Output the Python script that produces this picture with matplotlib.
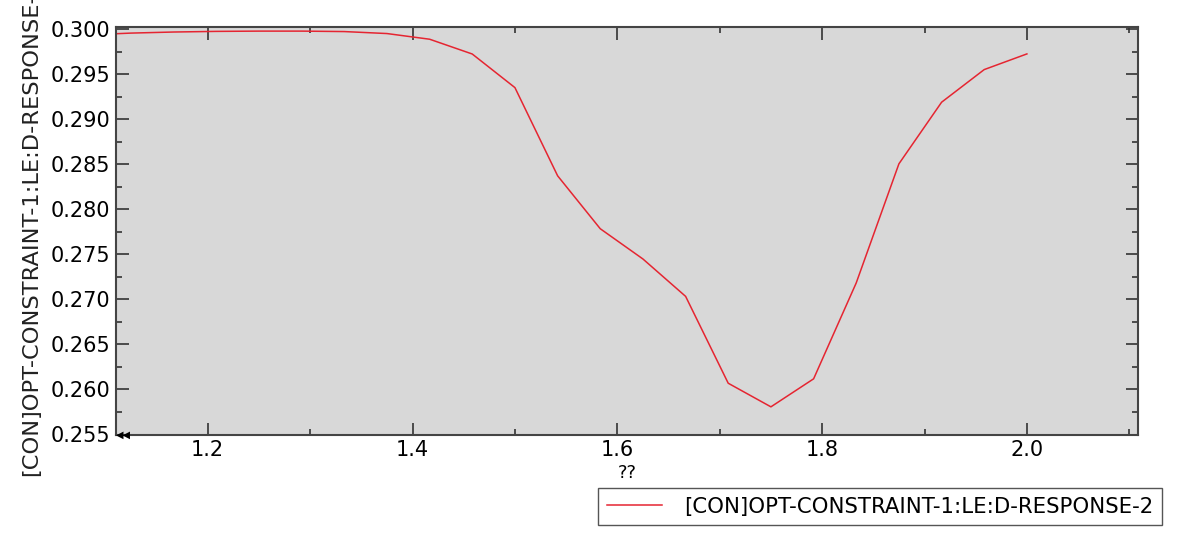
import numpy as np
import matplotlib
matplotlib.use("Agg")
import matplotlib.pyplot as plt
from matplotlib.ticker import MultipleLocator

# values
x_vals = [1.0833, 1.125, 1.1667, 1.2083, 1.25, 1.2917, 1.3333, 1.375, 1.4167,
          1.4583, 1.5, 1.5417, 1.5833, 1.625, 1.6667, 1.7083, 1.75, 1.7917,
          1.8333, 1.875, 1.9167, 1.9583, 2.0]
y_vals = [0.29935, 0.29955, 0.29967, 0.29974, 0.29977, 0.29977, 0.29972, 0.29950, 0.29887,
          0.29723, 0.29350, 0.28371, 0.27784, 0.27448, 0.27033, 0.26069, 0.25807, 0.26118,
          0.27182, 0.28504, 0.29188, 0.29550, 0.29724]
series_name = "[CON]OPT-CONSTRAINT-1:LE:D-RESPONSE-2"
x_title = "??"

plt.rcParams['font.family'] = ['DejaVu Sans']

fig = plt.figure(figsize=(11.77, 5.42), dpi=100)
ax = fig.add_axes([116 / 1177, 1 - 434.5 / 542, 1022 / 1177, 407.8 / 542])
ax.set_facecolor('#d8d8d8')

ax.plot(x_vals, y_vals, color='#e52531', lw=1.1, label=series_name)

ax.set_xlim(1.1104, 2.1085)
ax.set_ylim(0.255, 0.30026)
ax.xaxis.set_major_locator(MultipleLocator(0.2))
ax.xaxis.set_minor_locator(MultipleLocator(0.1))
ax.yaxis.set_major_locator(MultipleLocator(0.005))
ax.yaxis.set_minor_locator(MultipleLocator(0.0025))
ax.yaxis.set_major_formatter(plt.FormatStrFormatter('%.3f'))
ax.xaxis.set_major_formatter(plt.FormatStrFormatter('%.1f'))

ax.tick_params(which='both', direction='in', top=True, right=True,
               colors='#333333', labelcolor='black', labelsize=15, width=1.2)
ax.tick_params(which='major', length=9, pad=4)
ax.tick_params(which='minor', length=4)
for s in ax.spines.values():
    s.set_color('#444444')
    s.set_linewidth(1.5)

ax.set_xlabel(x_title, fontsize=13, labelpad=3)
# y title is centred low and runs off the top of the figure, as in the original
fig.text(31 / 1177, 1 - 228 / 542, series_name, rotation=90, fontsize=16.2,
         color='#222222', ha='center', va='center')

# clipped-data marker at lower left
ax.text(1.1104, 0.255, "\u25c0\u25c0", fontsize=7, ha='left', va='center',
        transform=ax.transData, clip_on=False)

leg = ax.legend(loc='upper left', bbox_to_anchor=(598 / 1177, 1 - 488 / 542),
                bbox_transform=fig.transFigure, borderaxespad=0, fancybox=False,
                edgecolor='#555555', framealpha=1, fontsize=15.3,
                handlelength=2.6, handletextpad=1.05, borderpad=0.4)
leg.get_frame().set_linewidth(1.0)

fig.savefig("out.png", dpi=100)
